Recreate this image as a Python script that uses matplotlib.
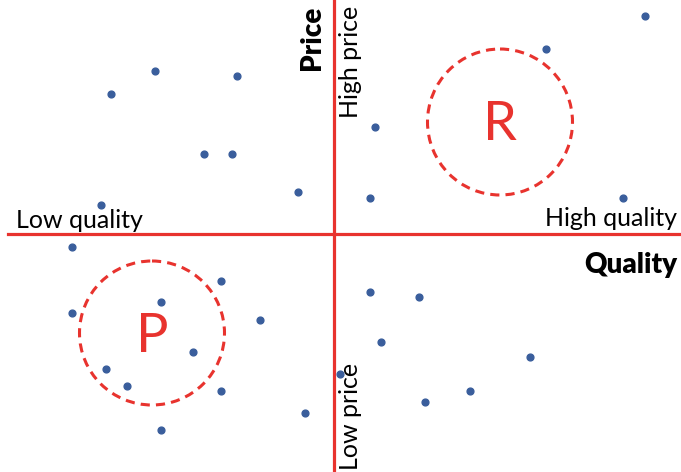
import matplotlib
matplotlib.use('Agg')
from matplotlib import pyplot as plt
from matplotlib.patches import Ellipse

# point positions in picture units (x right, y down)
pts_x = [645, 546, 155, 237, 111, 375, 204, 232, 298, 370, 623, 101,
         72, 221, 370, 419, 161, 72, 260, 381, 193, 530, 106, 340, 127, 221, 470, 425, 305, 161]
pts_y = [16, 49, 71, 76, 94, 127, 154, 154, 192, 198, 198, 205,
         247, 281, 292, 297, 302, 313, 320, 342, 352, 357, 369, 374, 386, 391, 391, 402, 413, 430]

# cluster circles: label, centre x, centre y, width, height
clusters = [('R', 500, 122, 145, 146), ('P', 152, 333, 145, 144)]

red = '#E8332E'
blue = '#3A5E9C'

fig = plt.figure(figsize=(6.81, 4.72), dpi=100)
ax = fig.add_axes([0, 0, 1, 1])
ax.set_xlim(0, 681)
ax.set_ylim(472, 0)
ax.axis('off')

ax.plot([8, 680], [234, 234], color=red, lw=2.3)
ax.plot([334, 334], [0, 472], color=red, lw=2.3)

ax.scatter(pts_x, pts_y, s=24, color=blue, zorder=3)

for lab, cx, cy, w, h in clusters:
    ax.add_patch(Ellipse((cx, cy), w, h, fill=False, ec=red, lw=2.2, ls=(0, (3, 2))))
    ax.text(cx, cy + 3, lab, color=red, fontsize=39, ha='center', va='center', family='Lato')

fs = 18
ax.text(16, 220, 'Low quality', fontsize=fs, ha='left', va='center', family='Lato')
ax.text(677, 218, 'High quality', fontsize=fs, ha='right', va='center', family='Lato')
ax.text(677, 265, 'Quality', fontsize=20, ha='right', va='center', family='Lato', weight='heavy')
ax.text(312, 6, 'Price', fontsize=20, ha='center', va='top', rotation=90, family='Lato', weight='heavy')
ax.text(350, 6, 'High price', fontsize=fs, ha='center', va='top', rotation=90, family='Lato')
ax.text(350, 470, 'Low price', fontsize=fs, ha='center', va='bottom', rotation=90, family='Lato')

plt.savefig('out.png')
